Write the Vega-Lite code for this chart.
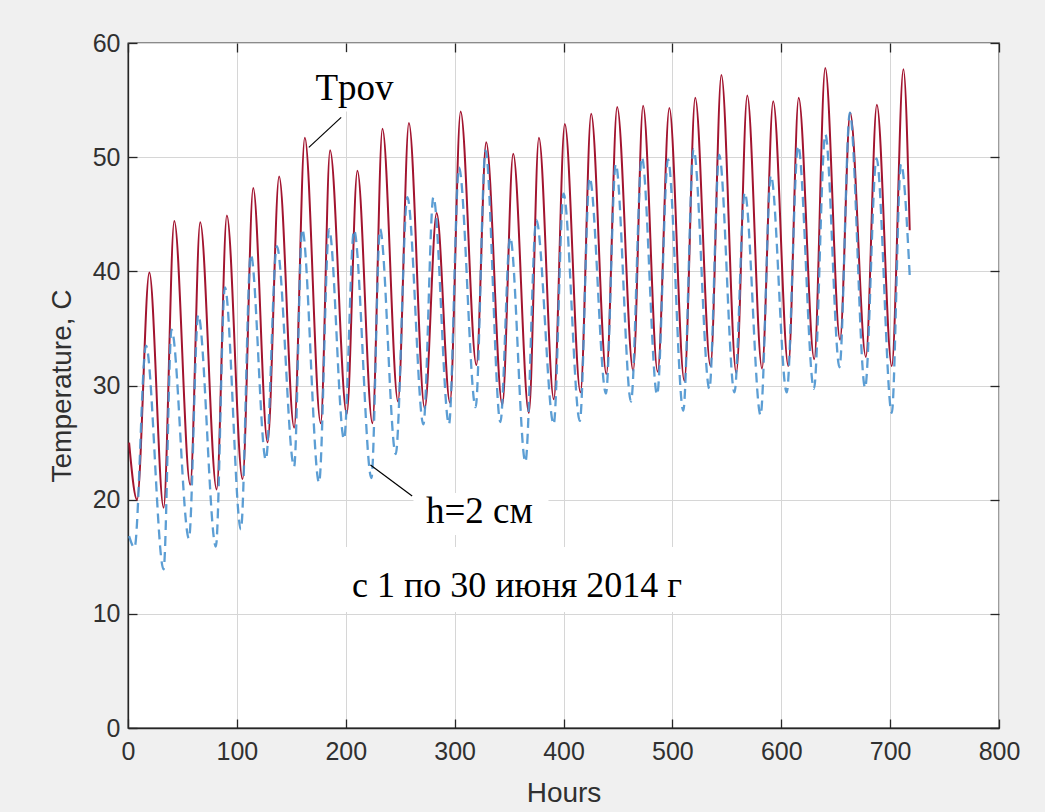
{
  "$schema": "https://vega.github.io/schema/vega-lite/v6.json",
  "width": 871,
  "height": 685,
  "autosize": {"type": "none"},
  "padding": {"left": 128, "top": 43, "right": 46, "bottom": 84},
  "background": "#f0f0f0",
  "config": {
    "view": {"fill": "white", "stroke": "#262626", "strokeWidth": 1.3},
    "axis": {
      "labelFont": "Liberation Sans", "labelFontSize": 25, "labelColor": "#303030", "labelFlush": false,
      "titleFont": "Liberation Sans", "titleFontSize": 28, "titleFontWeight": "normal", "titleColor": "#303030",
      "gridColor": "#d6d6d6", "gridWidth": 1,
      "domainColor": "#262626", "domainWidth": 1.3,
      "tickColor": "#262626", "tickWidth": 1.3, "tickSize": -9
    }
  },
  "datasets": {
    "tpov": [
      {"hour":1,"temp":25.0},{"hour":8.3,"temp":20.0},{"hour":19.6,"temp":39.9},{"hour":32.7,"temp":19.3},
      {"hour":42.5,"temp":44.4},{"hour":57.2,"temp":21.3},{"hour":66.3,"temp":44.3},{"hour":81.4,"temp":20.9},
      {"hour":90.8,"temp":44.9},{"hour":105.2,"temp":21.8},{"hour":115,"temp":47.3},{"hour":128.2,"temp":25.0},
      {"hour":138.8,"temp":48.3},{"hour":152.6,"temp":26.3},{"hour":162.4,"temp":51.7},{"hour":177,"temp":26.7},
      {"hour":185.6,"temp":50.6},{"hour":200.9,"temp":27.5},{"hour":210.7,"temp":48.8},{"hour":224.5,"temp":26.7},
      {"hour":233.7,"temp":52.5},{"hour":248,"temp":28.6},{"hour":258,"temp":53.0},{"hour":272.5,"temp":28.0},
      {"hour":283.5,"temp":45.1},{"hour":295.7,"temp":28.5},{"hour":305.5,"temp":54.0},{"hour":320,"temp":31.8},
      {"hour":329,"temp":51.3},{"hour":343.8,"temp":28.3},{"hour":353.8,"temp":50.3},{"hour":368.2,"temp":27.6},
      {"hour":377.4,"temp":51.7},{"hour":391.1,"temp":28.8},{"hour":401.2,"temp":52.9},{"hour":415.6,"temp":29.4},
      {"hour":425.4,"temp":53.8},{"hour":439.4,"temp":31.0},{"hour":449.3,"temp":54.4},{"hour":464,"temp":31.3},
      {"hour":473.1,"temp":54.5},{"hour":486.5,"temp":31.2},{"hour":497.2,"temp":54.3},{"hour":511,"temp":30.4},
      {"hour":521,"temp":55.2},{"hour":535,"temp":31.7},{"hour":545,"temp":57.2},{"hour":558.7,"temp":31.1},
      {"hour":568.8,"temp":55.4},{"hour":582.3,"temp":31.5},{"hour":592.6,"temp":54.9},{"hour":606.5,"temp":31.7},
      {"hour":616,"temp":55.2},{"hour":630.3,"temp":32.3},{"hour":640.4,"temp":57.8},{"hour":654,"temp":34.0},
      {"hour":663.3,"temp":53.9},{"hour":677.7,"temp":32.5},{"hour":687.8,"temp":54.6},{"hour":701.5,"temp":31.7},
      {"hour":712.2,"temp":57.7},{"hour":718,"temp":43.6}
    ],
    "h2": [
      {"hour":1,"temp":16.8},{"hour":6,"temp":15.8},{"hour":16.5,"temp":33.5},{"hour":32.7,"temp":13.9},
      {"hour":40,"temp":34.9},{"hour":56,"temp":16.6},{"hour":64.5,"temp":36.2},{"hour":80.7,"temp":15.9},
      {"hour":89,"temp":38.6},{"hour":103.7,"temp":17.4},{"hour":112.8,"temp":41.5},{"hour":126.6,"temp":23.5},
      {"hour":136.7,"temp":42.2},{"hour":152.6,"temp":22.9},{"hour":160,"temp":43.7},{"hour":175.5,"temp":21.5},
      {"hour":184.7,"temp":43.7},{"hour":198.4,"temp":25.3},{"hour":207.6,"temp":43.6},{"hour":223.6,"temp":21.9},
      {"hour":231.5,"temp":43.7},{"hour":245.9,"temp":24.0},{"hour":256.6,"temp":46.5},{"hour":271.3,"temp":26.6},
      {"hour":280.5,"temp":46.5},{"hour":294.8,"temp":26.6},{"hour":304,"temp":49.1},{"hour":319.3,"temp":28.1},
      {"hour":328.4,"temp":50.6},{"hour":342,"temp":26.8},{"hour":351,"temp":43.0},{"hour":365,"temp":23.3},
      {"hour":375,"temp":44.5},{"hour":391,"temp":26.6},{"hour":400,"temp":46.8},{"hour":415,"temp":26.9},
      {"hour":424,"temp":48.2},{"hour":439,"temp":29.3},{"hour":448,"temp":49.4},{"hour":462,"temp":28.6},
      {"hour":472,"temp":50.0},{"hour":486,"temp":29.2},{"hour":496,"temp":49.8},{"hour":510,"temp":27.8},
      {"hour":519.5,"temp":50.7},{"hour":534,"temp":29.7},{"hour":543,"temp":50.2},{"hour":557,"temp":29.4},
      {"hour":566.5,"temp":46.9},{"hour":581,"temp":27.4},{"hour":590.5,"temp":48.4},{"hour":605,"temp":29.4},
      {"hour":615.5,"temp":51.0},{"hour":630,"temp":29.7},{"hour":640.5,"temp":52.0},{"hour":653.5,"temp":31.6},
      {"hour":663,"temp":53.9},{"hour":677,"temp":29.8},{"hour":687.5,"temp":49.9},{"hour":701.5,"temp":27.6},
      {"hour":710,"temp":49.4},{"hour":718,"temp":39.6}
    ],
    "labels": [
      {"label": "Tpov"},
      {"label": "h=2 см"},
      {"label": "с 1 по 30 июня 2014 г"}
    ]
  },
  "resolve": {"axis": {"x": "independent", "y": "independent"}},
  "layer": [
    {
      "data": {"name": "tpov"},
      "mark": {"type": "line", "color": "#a2142f", "strokeWidth": 2, "interpolate": "monotone"},
      "encoding": {
        "x": {"field": "hour", "type": "quantitative", "scale": {"domain": [0, 800], "nice": false},
              "axis": {"title": "Hours", "values": [0,100,200,300,400,500,600,700,800], "grid": true, "labelPadding": 20, "titlePadding": 15}},
        "y": {"field": "temp", "type": "quantitative", "scale": {"domain": [0, 60], "nice": false},
              "axis": {"title": "Temperature, C", "values": [0,10,20,30,40,50,60], "grid": true, "labelPadding": 17, "titlePadding": 16}}
      }
    },
    {
      "data": {"name": "h2"},
      "mark": {"type": "line", "color": "#4a93cf", "strokeWidth": 2.3, "strokeDash": [10, 6], "opacity": 0.9, "interpolate": "monotone"},
      "encoding": {
        "x": {"field": "hour", "type": "quantitative", "scale": {"domain": [0, 800], "nice": false},
              "axis": {"orient": "top", "title": null, "labels": false, "grid": false, "domain": false, "values": [0,100,200,300,400,500,600,700,800]}},
        "y": {"field": "temp", "type": "quantitative", "scale": {"domain": [0, 60], "nice": false},
              "axis": {"orient": "right", "title": null, "labels": false, "grid": false, "domain": false, "values": [0,10,20,30,40,50,60]}}
      }
    },
    {
      "data": {"name": "labels"},
      "transform": [{"filter": "datum.label === 'Tpov'"}],
      "layer": [
        {
          "mark": {"type": "rect", "color": "white"},
          "encoding": {
            "x": {"datum": 158.4, "type": "quantitative", "axis": null}, "x2": {"datum": 254.8},
            "y": {"datum": 59.2, "type": "quantitative", "axis": null}, "y2": {"datum": 54.0}
          }
        },
        {
          "mark": {"type": "rule", "color": "black", "strokeWidth": 1.2},
          "encoding": {
            "x": {"datum": 166.1, "type": "quantitative", "axis": null}, "x2": {"datum": 195.8},
            "y": {"datum": 50.86, "type": "quantitative", "axis": null}, "y2": {"datum": 53.49}
          }
        },
        {
          "mark": {"type": "text", "font": "Liberation Serif", "fontSize": 37, "color": "black", "align": "center", "baseline": "alphabetic"},
          "encoding": {
            "x": {"datum": 208.0, "type": "quantitative", "axis": null},
            "y": {"datum": 55.0, "type": "quantitative", "axis": null},
            "text": {"field": "label"}
          }
        }
      ]
    },
    {
      "data": {"name": "labels"},
      "transform": [{"filter": "datum.label === 'h=2 см'"}],
      "layer": [
        {
          "mark": {"type": "rect", "color": "white"},
          "encoding": {
            "x": {"datum": 262.2, "type": "quantitative", "axis": null}, "x2": {"datum": 386.2},
            "y": {"datum": 20.58, "type": "quantitative", "axis": null}, "y2": {"datum": 16.9}
          }
        },
        {
          "mark": {"type": "rule", "color": "black", "strokeWidth": 1.2},
          "encoding": {
            "x": {"datum": 222.7, "type": "quantitative", "axis": null}, "x2": {"datum": 261.0},
            "y": {"datum": 23.04, "type": "quantitative", "axis": null}, "y2": {"datum": 20.32}
          }
        },
        {
          "mark": {"type": "text", "font": "Liberation Serif", "fontSize": 37, "color": "black", "align": "center", "baseline": "alphabetic"},
          "encoding": {
            "x": {"datum": 322.8, "type": "quantitative", "axis": null},
            "y": {"datum": 17.93, "type": "quantitative", "axis": null},
            "text": {"field": "label"}
          }
        }
      ]
    },
    {
      "data": {"name": "labels"},
      "transform": [{"filter": "datum.label === 'с 1 по 30 июня 2014 г'"}],
      "layer": [
        {
          "mark": {"type": "rect", "color": "white"},
          "encoding": {
            "x": {"datum": 190.6, "type": "quantitative", "axis": null}, "x2": {"datum": 525.8},
            "y": {"datum": 15.85, "type": "quantitative", "axis": null}, "y2": {"datum": 10.16}
          }
        },
        {
          "mark": {"type": "text", "font": "Liberation Serif", "fontSize": 36, "color": "black", "align": "center", "baseline": "alphabetic"},
          "encoding": {
            "x": {"datum": 357.3, "type": "quantitative", "axis": null},
            "y": {"datum": 11.5, "type": "quantitative", "axis": null},
            "text": {"field": "label"}
          }
        }
      ]
    }
  ]
}
